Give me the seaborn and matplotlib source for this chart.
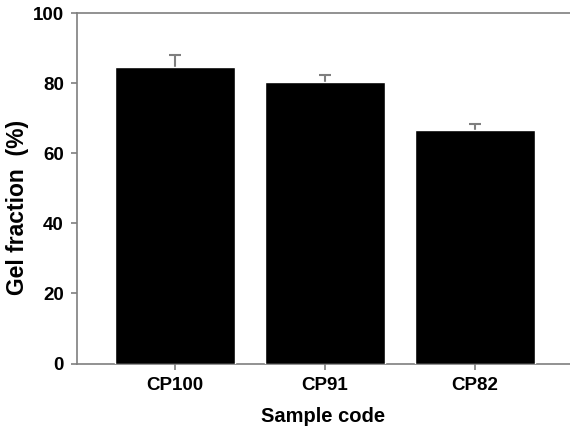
import matplotlib
matplotlib.use("Agg")
import matplotlib.pyplot as plt
import seaborn as sns
import pandas as pd

samples = ["CP100", "CP91", "CP82"]
gel_fraction = [84.6, 80.3, 66.7]
gel_error = [3.5, 2.1, 1.5]
yticks = [0, 20, 40, 60, 80, 100]

sns.set_theme(style="white")
plt.rcParams['font.family'] = ['Liberation Sans', 'DejaVu Sans']
plt.rcParams['text.color'] = 'black'
plt.rcParams['axes.labelcolor'] = 'black'
plt.rcParams['xtick.color'] = 'black'
plt.rcParams['ytick.color'] = 'black'

fig = plt.figure(figsize=(5.7, 4.3), dpi=100)
ax = fig.add_axes([77/570, 66.5/430, 1.0 - 77/570, (363.5 - 13)/430])

df = pd.DataFrame({"Sample": samples, "Gel": gel_fraction})
ax.errorbar(range(len(samples)), gel_fraction, yerr=gel_error, fmt="none",
            ecolor="#7f7f7f", elinewidth=1.5, capsize=4, capthick=1.5, zorder=1)
sns.barplot(data=df, x="Sample", y="Gel", color="black", saturation=1,
            width=0.8, errorbar=None, ax=ax, zorder=3)

ax.set_ylim(0, 100)
ax.set_xlim(-0.653, 2.633)
ax.set_yticks(yticks)
ax.set_yticklabels([str(v) for v in yticks])

gray = "#7f7f7f"
for s in ["left", "top", "bottom"]:
    ax.spines[s].set_visible(True)
    ax.spines[s].set_color(gray)
    ax.spines[s].set_linewidth(1.2)
ax.spines["right"].set_visible(False)

ax.tick_params(axis="both", direction="out", length=4.5, width=1.2, color=gray,
               labelcolor="black", labelsize=13.5, pad=5, left=True, bottom=True)
for lbl in ax.get_xticklabels() + ax.get_yticklabels():
    lbl.set_fontweight("bold")

ax.set_xlabel("Sample code", fontsize=14.5, fontweight="bold", labelpad=9.5, color="black")
ax.set_ylabel("Gel fraction  (%)", fontsize=16.5, fontweight="bold", color="black")
ax.yaxis.set_label_coords(-0.097, 0.444)

fig.savefig("out.png", dpi=100)
